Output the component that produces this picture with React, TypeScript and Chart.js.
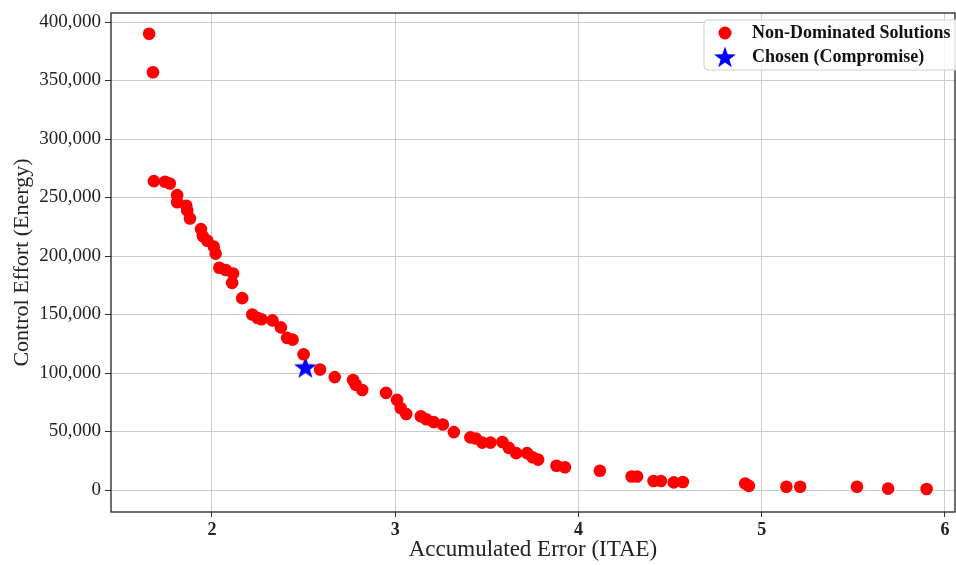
import React, { useEffect, useRef } from "react";
import { Chart, registerables } from "chart.js";

Chart.register(...registerables);

// Pareto front: Accumulated Error (ITAE) vs Control Effort (Energy)
const itae = [
  1.657, 1.678, 1.683, 1.744, 1.77, 1.81, 1.81, 1.86, 1.865, 1.88,
  1.94, 1.95, 1.975, 2.01, 2.02, 2.04, 2.076, 2.115, 2.11, 2.165,
  2.22, 2.25, 2.27, 2.33, 2.376, 2.41, 2.44, 2.5, 2.59, 2.67,
  2.77, 2.785, 2.82, 2.95, 3.01, 3.03, 3.06, 3.14, 3.17, 3.21,
  3.26, 3.32, 3.41, 3.44, 3.475, 3.52, 3.585, 3.62, 3.66, 3.72,
  3.75, 3.78, 3.88, 3.926, 4.117, 4.29, 4.32, 4.41, 4.45, 4.52,
  4.57, 4.91, 4.93, 5.135, 5.21, 5.52, 5.69, 5.9,
];
const energy = [
  390000, 357000, 264000, 263500, 262000, 252000, 246000, 243000, 239000, 232000,
  223000, 217000, 213000, 208000, 202000, 190000, 188000, 185000, 177000, 164000,
  150000, 147000, 146000, 145000, 139000, 130000, 128500, 116000, 103000, 96500,
  94000, 90000, 85500, 83000, 77000, 70000, 65000, 63000, 60500, 58000,
  56000, 49500, 45000, 44000, 40500, 40500, 41000, 36000, 31500, 31500,
  28000, 26000, 20700, 19500, 16500, 11500, 11500, 7700, 7700, 6500,
  6800, 5500, 3500, 2800, 2800, 2800, 1200, 900,
];
const chosenItae = [2.51];
const chosenEnergy = [105000];

const xTickValues = [2, 3, 4, 5, 6];
const yTickValues = [0, 50000, 100000, 150000, 200000, 250000, 300000, 350000, 400000];

const seriesLabels = ["Non-Dominated Solutions", "Chosen (Compromise)"];

const FONT = "'Liberation Serif', 'DejaVu Serif', serif";

function makeStar(size: number, color: string): HTMLCanvasElement {
  const c = document.createElement("canvas");
  c.width = size;
  c.height = size;
  const ctx = c.getContext("2d")!;
  const cx = size / 2;
  const cy = size / 2;
  const R = size / 2 - 0.5;
  const r = R * 0.4;
  ctx.beginPath();
  for (let i = 0; i < 10; i++) {
    const a = -Math.PI / 2 + (i * Math.PI) / 5;
    const rad = i % 2 === 0 ? R : r;
    const px = cx + rad * Math.cos(a);
    const py = cy + rad * Math.sin(a) + size * 0.04;
    if (i === 0) ctx.moveTo(px, py);
    else ctx.lineTo(px, py);
  }
  ctx.closePath();
  ctx.fillStyle = color;
  ctx.fill();
  return c;
}

const CANVAS_W = 968;

export default function App() {
  const ref = useRef<HTMLCanvasElement | null>(null);

  useEffect(() => {
    if (!ref.current) return;
    const star = makeStar(25, "#0000ff");
    const legendStar = makeStar(24, "#0000ff");

    const framePlugin = {
      id: "frame",
      afterDraw(chart: any) {
        const { ctx, chartArea } = chart;
        ctx.save();
        ctx.strokeStyle = "#222";
        ctx.lineWidth = 1.3;
        ctx.strokeRect(chartArea.left, chartArea.top, chartArea.right - chartArea.left, chartArea.bottom - chartArea.top);
        ctx.restore();

        // legend
        ctx.save();
        const bx = 704, by = 20, bw = 262, bh = 50, rr = 4;
        ctx.beginPath();
        ctx.moveTo(bx + rr, by);
        ctx.lineTo(bx + bw - rr, by);
        ctx.arcTo(bx + bw, by, bx + bw, by + rr, rr);
        ctx.lineTo(bx + bw, by + bh - rr);
        ctx.arcTo(bx + bw, by + bh, bx + bw - rr, by + bh, rr);
        ctx.lineTo(bx + rr, by + bh);
        ctx.arcTo(bx, by + bh, bx, by + bh - rr, rr);
        ctx.lineTo(bx, by + rr);
        ctx.arcTo(bx, by, bx + rr, by, rr);
        ctx.closePath();
        ctx.fillStyle = "rgba(255,255,255,0.85)";
        ctx.fill();
        ctx.strokeStyle = "#d0d0d0";
        ctx.lineWidth = 1;
        ctx.stroke();

        ctx.beginPath();
        ctx.arc(725, 33, 6.5, 0, Math.PI * 2);
        ctx.fillStyle = "#ff0000";
        ctx.fill();
        ctx.drawImage(legendStar, 725 - 12, 57 - 12);

        ctx.fillStyle = "#111";
        ctx.font = "bold 18px " + FONT;
        ctx.textBaseline = "middle";
        ctx.textAlign = "left";
        ctx.fillText(seriesLabels[0], 752, 33);
        ctx.fillText(seriesLabels[1], 752, 57);
        ctx.restore();
      },
    };

    const chart = new Chart(ref.current, {
      type: "scatter",
      data: {
        datasets: [
          {
            label: seriesLabels[0],
            data: itae.map((x, i) => ({ x, y: energy[i] })),
            backgroundColor: "#ff0000",
            borderColor: "#ff0000",
            borderWidth: 0,
            pointRadius: 6.3,
            pointHoverRadius: 6.3,
          },
          {
            label: seriesLabels[1],
            data: chosenItae.map((x, i) => ({ x, y: chosenEnergy[i] })),
            pointStyle: star as any,
            backgroundColor: "#0000ff",
            borderColor: "#0000ff",
            pointRadius: 12,
          },
        ],
      },
      options: {
        responsive: false,
        animation: false,
        devicePixelRatio: 1,
        layout: { padding: { top: 12, right: 1, left: 0, bottom: 0 } },
        plugins: {
          legend: { display: false },
          tooltip: { enabled: false },
        },
        scales: {
          x: {
            type: "linear",
            min: 1.449,
            max: 6.055,
            afterBuildTicks: (scale: any) => {
              scale.ticks = xTickValues.map((v) => ({ value: v }));
            },
            afterFit: (scale: any) => {
              scale.height = 53;
              scale.paddingLeft = 0;
              scale.paddingRight = 0;
            },
            grid: {
              color: "#cccccc",
              lineWidth: 1,
              drawTicks: true,
              tickLength: 5,
              tickColor: "#333",
            },
            border: { display: false },
            ticks: {
              color: "#222",
              font: { family: FONT, size: 18, weight: "bold" },
              padding: 3,
              callback: (v: any) => String(v),
            },
            title: {
              display: true,
              text: "Accumulated Error (ITAE)",
              color: "#222",
              font: { family: FONT, size: 23 },
              padding: { top: 0, bottom: 1 },
            },
          },
          y: {
            type: "linear",
            min: -18800,
            max: 407700,
            afterBuildTicks: (scale: any) => {
              scale.ticks = yTickValues.map((v) => ({ value: v }));
            },
            afterFit: (scale: any) => {
              scale.width = 111;
              scale.paddingTop = 0;
              scale.paddingBottom = 0;
            },
            grid: {
              color: "#cccccc",
              lineWidth: 1,
              drawTicks: true,
              tickLength: 6,
              tickColor: "#333",
            },
            border: { display: false },
            ticks: {
              color: "#222",
              font: { family: FONT, size: 19 },
              padding: 4,
              callback: (v: any) => Number(v).toLocaleString("en-US"),
            },
            title: {
              display: true,
              text: "Control Effort (Energy)",
              color: "#222",
              font: { family: FONT, size: 22 },
              padding: { top: 9, bottom: 0 },
            },
          },
        },
      },
      plugins: [framePlugin],
    });

    return () => chart.destroy();
  }, []);

  return (
    <div style={{ position: "fixed", left: 0, top: 0, width: 956, height: 565, background: "#fff", overflow: "hidden" }}>
      <canvas ref={ref} width={CANVAS_W} height={565} style={{ width: CANVAS_W, height: 565, display: "block" }} />
    </div>
  );
}
